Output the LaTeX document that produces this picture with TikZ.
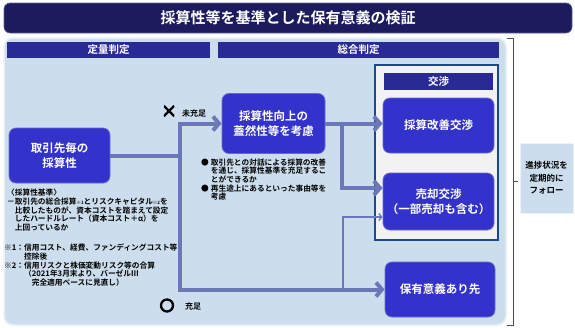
\documentclass[tikz,border=0pt]{standalone}
\usepackage{fontspec}
\setmainfont{Noto Sans CJK JP}[BoldFont={Noto Sans CJK JP Bold}]
\usetikzlibrary{arrows.meta}
\definecolor{titlec}{RGB}{28,27,94}
\definecolor{headc}{RGB}{42,42,150}
\definecolor{nodec}{RGB}{51,51,204}
\definecolor{nodeb}{RGB}{105,105,205}
\definecolor{panelc}{RGB}{204,222,237}
\definecolor{linec}{RGB}{107,120,184}
\definecolor{negb}{RGB}{30,70,150}
\definecolor{negf}{RGB}{242,242,242}
\begin{document}
\begin{tikzpicture}[x=1pt,y=-1pt,
  box/.style={rectangle,rounded corners=7pt,fill=nodec,draw=nodeb,line width=0.8pt,text=white,
    font=\fontsize{11.5}{15}\selectfont\bfseries,align=center,inner sep=0pt},
  headbar/.style={rectangle,fill=headc,text=white,font=\fontsize{10.5}{12}\selectfont\bfseries,inner sep=0pt},
  conn/.style={draw=linec,line width=4pt,-{Straight Barb[length=6pt,width=14pt]}},
  thinconn/.style={draw=linec,line width=1.3pt,-{Straight Barb[length=3pt,width=7pt]}},
  small/.style={font=\fontsize{7.7}{8.6}\selectfont\bfseries,align=left,inner sep=0pt,text=black},
  lbl/.style={font=\fontsize{8}{10}\selectfont\bfseries,inner sep=0pt,text=black}
]
\useasboundingbox (0,0) rectangle (575,327);
% title
\node[rectangle,rounded corners=6pt,fill=titlec,draw=titlec!70!white,line width=0.6pt,
  minimum width=568pt,minimum height=30pt,text=white,font=\fontsize{15}{18}\selectfont\bfseries]
  (title) at (288,18) {採算性等を基準とした保有意義の検証};
% panel
\node[rectangle,rounded corners=9pt,fill=panelc,draw=white!55!panelc,line width=1.5pt,
  minimum width=502pt,minimum height=287pt] (panel) at (255,181.5) {};
% headers
\node[headbar,minimum width=203pt,minimum height=16pt] (h1) at (108.5,50) {定量判定};
\node[headbar,minimum width=281pt,minimum height=16pt] (h2) at (358.5,50) {総合判定};
% negotiation container
\node[rectangle,fill=negf,draw=negb,line width=1.2pt,minimum width=123pt,minimum height=175pt] (neg) at (436.5,152.5) {};
\node[headbar,minimum width=109pt,minimum height=17pt] (negh) at (438.5,81.5) {交渉};
% nodes
\node[box,minimum width=101pt,minimum height=55pt] (src) at (59.5,155.5) {取引先毎の\\採算性};
\node[box,minimum width=103pt,minimum height=60pt] (mid) at (273.5,123.5) {採算性向上の\\蓋然性等を考慮};
\node[box,minimum width=111pt,minimum height=55pt] (kaizen) at (438.5,125.5) {採算改善交渉};
\node[box,minimum width=111pt,minimum height=57pt] (sell) at (438.5,201.5) {売却交渉\\（一部売却も含む）};
\node[box,minimum width=110pt,minimum height=55pt] (hold) at (440,289.5) {保有意義あり先};
% follow box
\node[rectangle,fill=panelc,draw=white!60!panelc,line width=1pt,minimum width=53pt,minimum height=70pt,
  font=\fontsize{8.5}{12.5}\selectfont\bfseries,align=center,inner sep=0pt] (follow) at (546.5,178) {進捗状況を\\定期的に\\フォロー};
% bracket
\coordinate (brt) at (513,38);
\coordinate (brb) at (513,325);
\coordinate (brm) at (513,181);
\draw[black!70,line width=0.7pt] ([xshift=-6pt]brt) -- (brt) -- (brb) -- ([xshift=-6pt]brb);
\draw[black!70,line width=0.7pt] (brm) -- ([xshift=5pt]brm);
% connectors
\coordinate (j) at (180,155.5);
\draw[draw=linec,line width=4pt] (src.east) -- (j);
\draw[conn] (j) |- (mid.west);
\draw[conn] (j) |- (hold.west);
\draw[conn] (mid.east) -- (mid.east -| kaizen.west);
\coordinate (b) at (342,123.5);
\draw[conn] (b) |- ([yshift=13.5pt]sell.west);
\coordinate (t) at (343,289.5);
\draw[thinconn] (t) |- ([yshift=-15.5pt]sell.west);
% labels
\node[rectangle,minimum size=10.5pt,inner sep=0pt,
  path picture={\draw[black,line width=2.4pt]
    (path picture bounding box.north west) -- (path picture bounding box.south east)
    (path picture bounding box.north east) -- (path picture bounding box.south west);}]
  (xmark) at (169,111) {};
\node[lbl,anchor=west] (ng) at (182,113) {未充足};
\node[circle,draw=black,line width=2.3pt,minimum size=12pt,inner sep=0pt] (omark) at (167,305.5) {};
\node[lbl,anchor=west] (ok) at (185,306) {充足};
% bullets
\node[small,anchor=north west] (bul) at (201,158.5) {●\hspace{2pt}取引先との対話による採算の改善\\
\hphantom{●\hspace{2pt}}を通じ、採算性基準を充足するこ\\
\hphantom{●\hspace{2pt}}とができるか\\
●\hspace{2pt}再生途上にあるといった事由等を\\
\hphantom{●\hspace{2pt}}考慮};
% criteria text
\node[small,anchor=north west] (crit) at (7,189) {〈採算性基準〉\\
－取引先の総合採算{\fontsize{4.5}{5}\selectfont ※1}とリスクキャピタル{\fontsize{4.5}{5}\selectfont ※2}を\\
\hphantom{－}比較したものが、資本コストを踏まえて設定\\
\hphantom{－}したハードルレート（資本コスト＋α）を\\
\hphantom{－}上回っているか};
\node[small,anchor=north west] (notes) at (4,244) {※1：信用コスト、経費、ファンディングコスト等\\
\hphantom{※1：}控除後\\
※2：信用リスクと株価変動リスク等の合算\\
\hphantom{※2：}（2021年3月末より、バーゼルⅢ\\
\hphantom{※2：（}完全適用ベースに見直し）};
\end{tikzpicture}
\end{document}
